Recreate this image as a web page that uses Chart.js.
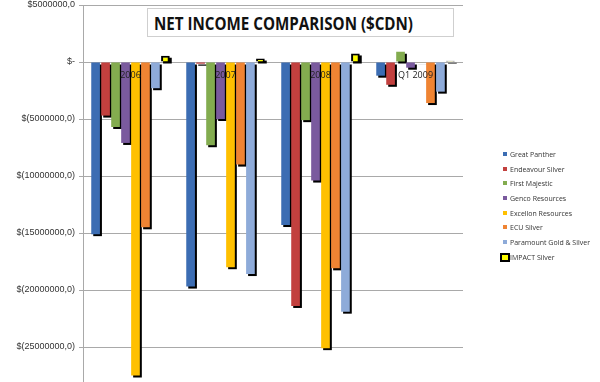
<!DOCTYPE html>
<html>
<head>
<meta charset="utf-8">
<script src="https://cdn.jsdelivr.net/npm/chart.js@4/dist/chart.umd.min.js"></script>
<style>
  html, body { margin: 0; padding: 0; background: #fff; }
  #wrap { position: relative; width: 600px; height: 382px; overflow: hidden; }
  #c { position: absolute; left: 0; top: 0; }
  #titleBox { position: absolute; left: 147px; top: 8px; width: 307px; height: 29px;
    border: 1px solid #cfcfcf; background: #fff; box-sizing: border-box; }
  #titleText { position: absolute; left: 6px; top: 3px; font: bold 17px "Open Sans", "Liberation Sans", sans-serif;
    color: #111; white-space: nowrap; transform-origin: 0 0; }
  #legend { position: absolute; left: 500px; top: 147px; font: 8px "Open Sans", "Liberation Sans", sans-serif; color: #333; }
  .li { position: relative; height: 14.7px; line-height: 14.7px; padding-left: 10px; white-space: nowrap; }
  .tx { display: inline-block; transform-origin: 0 50%; }
  .mk { position: absolute; left: 3px; top: 5px; width: 4px; height: 4px; }
  .mk.imp { left: 0px; top: 3px; width: 6px; height: 5px; border: 2px solid #000; background: #ffff00; }
</style>
</head>
<body>
<div id="wrap">
  <canvas id="c" width="600" height="382"></canvas>
  <div id="titleBox"><span id="titleText">NET INCOME COMPARISON ($CDN)</span></div>
  <div id="legend"></div>
</div>
<script>
const categories = ['2006', '2007', '2008', 'Q1 2009'];
const seriesNames = ['Great Panther', 'Endeavour Silver', 'First Majestic', 'Genco Resources',
  'Excellon Resources', 'ECU Silver', 'Paramount Gold & Silver', 'IMPACT Silver'];
const greatPanther = [-15100000, -19700000, -14300000, -1200000];
const endeavourSilver = [-4700000, -150000, -21400000, -2000000];
const firstMajestic = [-5700000, -7300000, -5100000, 900000];
const gencoResources = [-7100000, -5000000, -10400000, -500000];
const excellonResources = [-27500000, -18000000, -25100000, -50000];
const ecuSilver = [-14500000, -9000000, -18100000, -3600000];
const paramountGoldSilver = [-2300000, -18600000, -21900000, -2600000];
const impactSilver = [550000, 300000, 750000, 100000];
const yTickValues = [5000000, 0, -5000000, -10000000, -15000000, -20000000, -25000000];

const seriesValues = [greatPanther, endeavourSilver, firstMajestic, gencoResources,
  excellonResources, ecuSilver, paramountGoldSilver, impactSilver];
const colors = ['#3c6db3', '#c2403e', '#83ac4f', '#7a5a9e', '#ffc000', '#ef8433', '#8eabd9', '#ffff00'];

function fmt(v) {
  if (v === 0) return '$-';
  const s = Math.abs(v) + ',0';
  return v > 0 ? '$' + s : '$(' + s + ')';
}

const shadowPlugin = {
  id: 'shadows',
  beforeDatasetsDraw(chart) {
    const ctx = chart.ctx;
    ctx.save();
    ctx.fillStyle = '#000';
    chart.getSortedVisibleDatasetMetas().forEach(meta => {
      meta.data.forEach(el => {
        const p = el.getProps(['x', 'y', 'base', 'width'], true);
        const top = Math.min(p.y, p.base);
        const h = Math.abs(p.base - p.y);
        ctx.fillRect(p.x - p.width / 2 + 2, top + 2, p.width, h);
      });
    });
    ctx.restore();
  }
};

const datasets = seriesNames.map((name, i) => ({
  label: name,
  data: seriesValues[i],
  backgroundColor: colors[i],
  borderColor: i === 7 ? '#000' : 'rgba(255,255,255,0.35)',
  borderWidth: i === 7 ? 2 : 0,
  categoryPercentage: 0.84,
  barPercentage: 0.87
}));

new Chart(document.getElementById('c'), {
  type: 'bar',
  data: { labels: categories, datasets },
  plugins: [shadowPlugin],
  options: {
    responsive: false,
    animation: false,
    layout: { padding: { top: 5, right: 137, bottom: 0, left: 0 } },
    plugins: { legend: { display: false }, title: { display: false }, tooltip: { enabled: false } },
    scales: {
      x: {
        position: { y: 0 },
        grid: { display: false, drawTicks: false },
        border: { display: false },
        ticks: { z: 1, padding: 8, color: '#222', font: { family: '"Open Sans", "Liberation Sans", sans-serif', size: 9 } }
      },
      y: {
        min: -28070000,
        max: 5000000,
        afterBuildTicks(scale) { scale.ticks = yTickValues.map(v => ({ value: v })); },
        afterFit(scale) { scale.width = 83; scale.paddingTop = 0; scale.paddingBottom = 0; },
        grid: { color: '#a9a9a9', lineWidth: 1, tickLength: 4 },
        border: { color: '#a9a9a9' },
        ticks: { padding: 4, color: '#333', callback: v => fmt(v),
          font: { family: '"Liberation Sans", sans-serif', size: 9 } }
      }
    }
  }
});

// Fit title text width to reference (~259px)
const tt = document.getElementById('titleText');
const w = tt.getBoundingClientRect().width;
tt.style.transform = 'scaleX(' + (259 / w) + ')';

// Legend
const lg = document.getElementById('legend');
const spans = [];
seriesNames.forEach((n, i) => {
  const d = document.createElement('div');
  d.className = 'li';
  const m = document.createElement('span');
  m.className = 'mk' + (i === 7 ? ' imp' : '');
  if (i !== 7) m.style.background = colors[i];
  d.appendChild(m);
  const t = document.createElement('span');
  t.className = 'tx';
  t.textContent = n;
  d.appendChild(t);
  spans.push(t);
  lg.appendChild(d);
});
const longest = spans[6].getBoundingClientRect().width;
const sx = 80 / longest;
spans.forEach(s => { s.style.transform = 'scaleX(' + sx + ')'; });
</script>
</body>
</html>
